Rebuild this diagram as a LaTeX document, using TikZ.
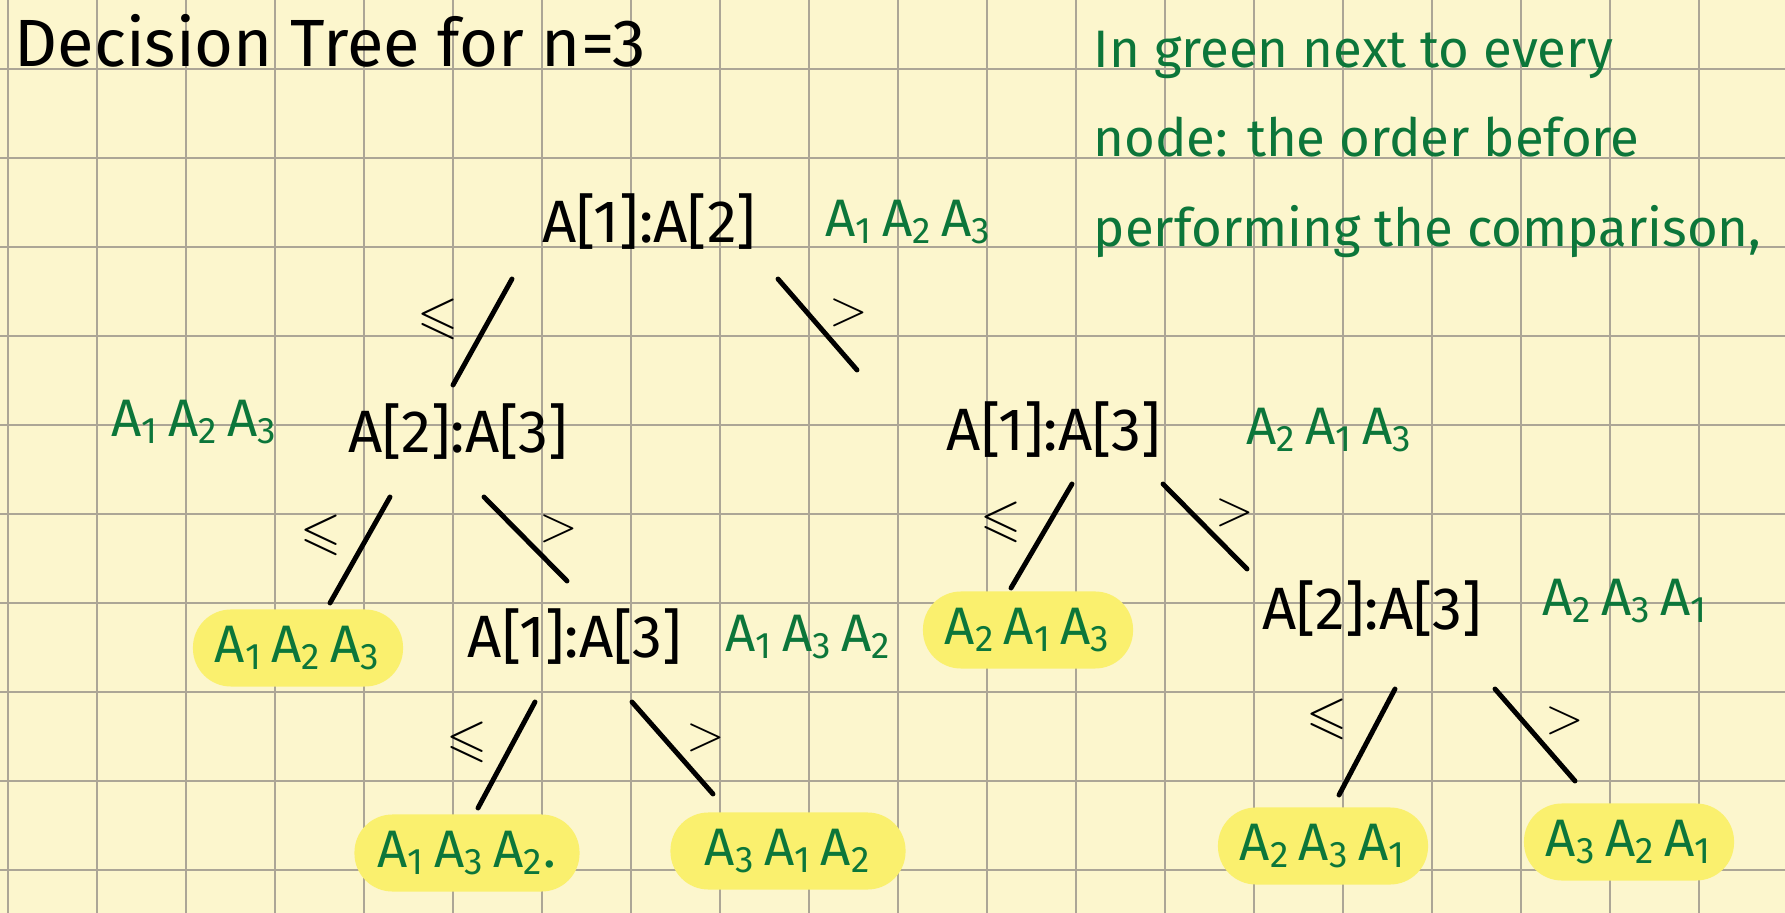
\documentclass[tikz,border=0pt]{standalone}
\usepackage{fontspec}
\setmainfont{Fira Sans}
\usepackage{amssymb}
\usetikzlibrary{positioning}

\definecolor{paper}{RGB}{252,246,205}
\definecolor{gridgray}{RGB}{172,166,150}
\definecolor{marker}{RGB}{250,240,110}
\definecolor{pen}{RGB}{12,118,58}

% order of the three elements, in green
\newcommand{\ord}[3]{A\textsubscript{#1}\,A\textsubscript{#2}\,A\textsubscript{#3}}

\begin{document}
\begin{tikzpicture}[
  x=0.01cm, y=-0.01cm,
  gridline/.style={draw=gridgray, line width=0.6pt},
  title/.style={font=\fontsize{19}{22}\selectfont, inner sep=0pt},
  note/.style={text=pen, font=\fontsize{15}{25.5}\selectfont, align=left, inner sep=0pt},
  test/.style={font=\fontsize{17}{20}\selectfont, inner sep=2pt},
  order/.style={text=pen, font=\fontsize{15}{18}\selectfont, inner sep=2pt},
  leaf/.style={fill=marker, text=pen, rounded corners=0.38cm, minimum width=2.1cm,
    minimum height=0.77cm, font=\fontsize{15}{18}\selectfont},
  edge/.style={line width=1.4pt, line cap=round},
  rel/.style={font=\fontsize{15}{17}\selectfont}
]
  % paper
  \fill[paper] (0,0) rectangle (1785,913);
  \useasboundingbox (0,0) rectangle (1785,913);
  \foreach \gx in {8,97,...,1785}
    \draw[gridline] (\gx,0) -- (\gx,913);
  \foreach \gy in {69,158,...,913}
    \draw[gridline] (0,\gy) -- (1785,\gy);

  \node[title, anchor=base west] (head) at (14,67) {Decision Tree for n=3};
  \node[note, anchor=north west] (remark) at (1093,30)
    {In green next to every\\node: the order before\\performing the comparison,};

  % comparisons
  \node[test] (root) at (649,222) {A[1]:A[2]};
  \node[test] (l) at (458,432) {A[2]:A[3]};
  \node[test] (r) at (1054,430) {A[1]:A[3]};
  \node[test] (lr) at (575,637) {A[1]:A[3]};
  \node[test] (rr) at (1372,609) {A[2]:A[3]};

  \node[order, right=0.54cm of root] {\ord123};
  \node[order, left=0.55cm of l, yshift=0.1cm] {\ord123};
  \node[order, right=0.7cm of r] {\ord213};
  \node[order, right=0.28cm of lr] {\ord132};
  \node[order, right=0.45cm of rr, yshift=0.08cm] {\ord231};

  % outcomes
  \node[leaf] (ll) at (298,648) {\ord123};
  \node[leaf] (rl) at (1028,630) {\ord213};
  \node[leaf, minimum width=2.25cm] (lrl) at (467,853) {\ord132.};
  \node[leaf, minimum width=2.35cm] (lrr) at (788,851) {\ord312};
  \node[leaf] (rrl) at (1323,846) {\ord231};
  \node[leaf] (rrr) at (1629,842) {\ord321};

  \draw[edge] ([shift={(-137,57)}]root.center) -- node[rel, shift={(-44,-13)}] {$\leqslant$} ([shift={(-5,-47)}]l.center);
  \draw[edge] ([shift={(129,57)}]root.center) -- node[rel, shift={(31,-12)}] {$>$} ([shift={(-197,-60)}]r.center);
  \draw[edge] ([shift={(-68,65)}]l.center) -- node[rel, shift={(-39,-15)}] {$\leqslant$} ([shift={(32,-45)}]ll.center);
  \draw[edge] ([shift={(26,65)}]l.center) -- node[rel, shift={(33,-10)}] {$>$} ([shift={(-8,-56)}]lr.center);
  \draw[edge] ([shift={(-40,65)}]lr.center) -- node[rel, shift={(-39,-13)}] {$\leqslant$} ([shift={(11,-45)}]lrl.center);
  \draw[edge] ([shift={(57,65)}]lr.center) -- node[rel, shift={(33,-10)}] {$>$} ([shift={(-75,-57)}]lrr.center);
  \draw[edge] ([shift={(18,54)}]r.center) -- node[rel, shift={(-41,-14)}] {$\leqslant$} ([shift={(-17,-42)}]rl.center);
  \draw[edge] ([shift={(109,54)}]r.center) -- node[rel, shift={(30,-14)}] {$>$} ([shift={(-125,-40)}]rr.center);
  \draw[edge] ([shift={(23,80)}]rr.center) -- node[rel, shift={(-40,-23)}] {$\leqslant$} ([shift={(16,-51)}]rrl.center);
  \draw[edge] ([shift={(123,80)}]rr.center) -- node[rel, shift={(30,-14)}] {$>$} ([shift={(-54,-61)}]rrr.center);
\end{tikzpicture}
\end{document}
